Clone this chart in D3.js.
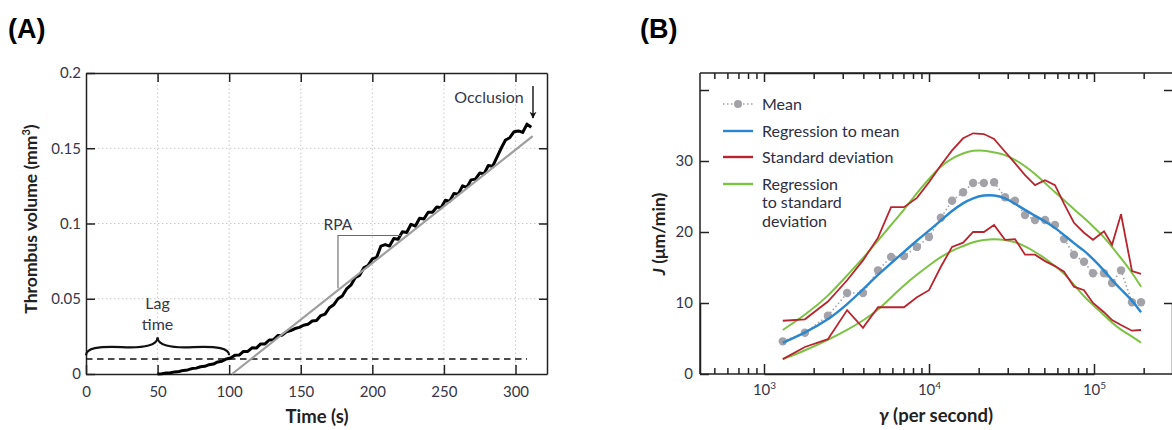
<!DOCTYPE html>
<meta charset="utf-8" />
<script src="https://d3js.org/d3.v7.min.js"></script>
<body style="margin:0;background:#fff">
<div id="chart"></div>
<script>
// ---------- Panel A : thrombus volume over time ----------
const timeS = [50,53,56,59,62,65,68,71,74,77,80,83,86,89,92,95,98,101,104,107,110,113,116,119,122,125,128,131,134,137,140,143,146,149,152,155,158,161,164,167,170,173,176,179,182,185,188,191,194,197,200,203,206,209,212,215,218,221,224,227,230,233,236,239,242,245,248,251,254,257,260,263,266,269,272,275,278,281,284,287,290,293,296,299,302,305,308,311];
const volume = [0,0.0002,0.0006,0.0008,0.0014,0.0017,0.0024,0.0027,0.0036,0.0039,0.0048,0.0051,0.0062,0.0066,0.008,0.0085,0.01,0.0106,0.0125,0.0126,0.015,0.015,0.0174,0.0172,0.02,0.02,0.0226,0.0228,0.0256,0.0258,0.028,0.0288,0.0302,0.031,0.0324,0.033,0.0352,0.0356,0.0388,0.0398,0.044,0.046,0.05,0.0518,0.0565,0.059,0.064,0.0655,0.0705,0.072,0.0765,0.0775,0.085,0.086,0.085,0.09,0.0895,0.0945,0.094,0.0995,0.0982,0.1035,0.103,0.1075,0.1075,0.111,0.1105,0.1155,0.1148,0.12,0.1195,0.125,0.124,0.129,0.1295,0.1335,0.133,0.1385,0.138,0.144,0.15,0.1555,0.157,0.161,0.1615,0.1605,0.166,0.164];
const fitTime = [102, 312];
const fitVolume = [0, 0.158];
const lagThreshold = 0.01;
const thresholdEnd = 308;
const xTicksA = [0,50,100,150,200,250,300];
const yTicksA = [0,0.05,0.1,0.15,0.2];
const yTickLabelsA = ["0","0.05","0.1","0.15","0.2"];

// ---------- Panel B : J versus shear rate ----------
const shearRate = [1300,1770,2440,3190,3980,4910,5890,7050,8450,10000,11800,13800,16100,18500,21500,24800,28900,33200,38200,43900,50500,58000,65800,75600,87000,98600,115000,128600,145800,169900,192800];
const meanJ   = [4.6,5.8,8.2,11.4,11.4,14.6,16.5,16.6,17.9,19.3,22.0,24.4,25.6,26.9,26.9,27.0,24.9,24.4,22.4,21.7,21.7,21.0,19.0,16.8,15.8,14.2,14.2,12.8,14.6,10.1,10.1];
const sdUpper = [7.5,7.7,10.2,13.2,16.0,19.2,23.5,23.5,24.8,27.0,29.4,31.5,33.2,33.9,33.8,33.1,31.3,29.7,28.0,26.6,27.3,26.6,24.0,21.3,19.9,18.9,20.1,18.2,22.5,14.5,14.1];
const sdLower = [2.1,3.8,4.9,9.0,6.5,9.4,9.4,9.4,10.8,11.8,15.1,17.9,18.5,20.0,20.0,21.0,18.9,19.0,16.8,16.8,15.9,15.2,14.4,12.3,11.8,10.0,8.7,7.6,6.9,6.1,6.2];
const regMean  = [4.4,5.8,7.6,9.8,11.9,14.0,15.6,17.2,18.8,20.2,21.6,23.0,24.1,24.8,25.2,25.2,24.8,24.0,23.1,22.3,21.5,20.6,19.6,18.4,17.4,16.2,14.6,13.2,11.9,10.4,8.7];
const regUpper = [6.2,8.3,10.9,13.9,16.3,18.8,21.0,23.1,25.5,27.5,29.3,30.4,31.1,31.5,31.5,31.2,30.9,30.2,29.3,28.2,26.9,25.6,24.5,23.2,22.0,20.8,19.3,17.9,16.3,14.3,12.3];
const regLower = [2.1,3.3,4.8,6.2,7.5,9.0,10.8,12.5,14.0,15.3,16.5,17.4,18.0,18.6,18.9,19.0,18.9,18.6,18.0,17.2,16.3,15.2,14.2,12.6,10.9,9.7,8.3,7.2,6.2,5.3,4.4];
const xMajorB = [1e3,1e4,1e5];
const xMinorB = [500,600,700,800,900,2000,3000,4000,5000,6000,7000,8000,9000,20000,30000,40000,50000,60000,70000,80000,90000,200000];
const yTicksB = [0,10,20,30,40];
const yTickLabelsB = [0,10,20,30];
const legendB = [
  {key:"mean", lines:["Mean"]},
  {key:"reg", lines:["Regression to mean"]},
  {key:"sd", lines:["Standard deviation"]},
  {key:"regsd", lines:["Regression","to standard","deviation"]}
];

const font = "Lato, 'Open Sans', sans-serif";
const inkTick = "#363648";
const red = "#b8252f", blue = "#2a86cf", green = "#7cc243", dotGrey = "#a2a2a8";

const svg = d3.select("#chart").append("svg")
  .attr("width", 1172).attr("height", 430)
  .style("background", "#fff");

// panel letters
svg.append("text").attr("x", 8).attr("y", 38).text("(A)")
  .attr("font-family", "'Liberation Sans', Arial, sans-serif").attr("font-weight", "bold").attr("font-size", 27);
svg.append("text").attr("x", 640).attr("y", 38).text("(B)")
  .attr("font-family", "'Liberation Sans', Arial, sans-serif").attr("font-weight", "bold").attr("font-size", 27);

// ======================= Panel A =======================
const xA = d3.scaleLinear().domain([0, 322]).range([86, 547]);
const yA = d3.scaleLinear().domain([0, 0.2]).range([374, 73]);
const gA = svg.append("g");

// dotted grid
gA.selectAll(".vg").data(xTicksA.slice(1)).join("line")
  .attr("x1", d => xA(d)).attr("x2", d => xA(d))
  .attr("y1", yA(0)).attr("y2", yA(0.2))
  .attr("stroke", "#c9c9c9").attr("stroke-dasharray", "1.5,2.5");
gA.selectAll(".hg").data(yTicksA.slice(1, -1)).join("line")
  .attr("x1", xA(0)).attr("x2", xA(322))
  .attr("y1", d => yA(d)).attr("y2", d => yA(d))
  .attr("stroke", "#c9c9c9").attr("stroke-dasharray", "1.5,2.5");

function styleAxis(g) {
  g.select(".domain").attr("stroke", "#222").attr("stroke-width", 1.5);
  g.selectAll(".tick line").attr("stroke", "#222").attr("stroke-width", 1.5);
  g.selectAll(".tick text").attr("font-family", font).attr("font-size", 15).attr("fill", inkTick);
}

gA.append("g").attr("transform", `translate(0,${yA(0)})`)
  .call(d3.axisBottom(xA).tickValues(xTicksA).tickSize(-9).tickSizeOuter(0).tickPadding(12))
  .call(styleAxis);
gA.append("g").attr("transform", `translate(${xA(0)},0)`)
  .call(d3.axisLeft(yA).tickValues(yTicksA).tickFormat((d, i) => yTickLabelsA[i]).tickSize(-9).tickSizeOuter(0).tickPadding(5))
  .call(styleAxis);
gA.append("g").attr("transform", `translate(0,${yA(0.2)})`)
  .call(d3.axisTop(xA).tickValues(xTicksA.slice(1)).tickFormat("").tickSize(-9).tickSizeOuter(0))
  .call(styleAxis);
gA.append("g").attr("transform", `translate(${xA(322)},0)`)
  .call(d3.axisRight(yA).tickValues(yTicksA.slice(1, -1)).tickFormat("").tickSize(-8).tickSizeOuter(0))
  .call(styleAxis);

// lag threshold
gA.append("line")
  .attr("x1", xA(0)).attr("x2", xA(thresholdEnd))
  .attr("y1", yA(lagThreshold)).attr("y2", yA(lagThreshold))
  .attr("stroke", "#111").attr("stroke-width", 1.6).attr("stroke-dasharray", "6.5,4.5");

// measured volume
gA.append("path")
  .datum(timeS.map((t, i) => [t, volume[i]]))
  .attr("fill", "none").attr("stroke", "#000").attr("stroke-width", 3)
  .attr("stroke-linejoin", "round")
  .attr("d", d3.line().x(d => xA(d[0])).y(d => yA(d[1])));

// RPA fit
gA.append("line")
  .attr("x1", xA(fitTime[0])).attr("y1", yA(fitVolume[0]))
  .attr("x2", xA(fitTime[1])).attr("y2", yA(fitVolume[1]))
  .attr("stroke", "#9e9e9e").attr("stroke-width", 2.2);

// RPA bracket
gA.append("path")
  .attr("d", `M${xA(176)},${yA(0.057)} V${yA(0.092)} H${xA(220)}`)
  .attr("fill", "none").attr("stroke", "#6a6a6a").attr("stroke-width", 1.1);
gA.append("text").attr("x", xA(176)).attr("y", yA(0.096)).attr("text-anchor", "middle")
  .attr("font-family", font).attr("font-size", 15.5).attr("fill", inkTick).text("RPA");

// lag time brace
function brace(x1, y1, x2, y2, w, q) {
  let dx = x1 - x2, dy = y1 - y2;
  const len = Math.sqrt(dx * dx + dy * dy); dx /= len; dy /= len;
  const qx1 = x1 + q * w * dy, qy1 = y1 - q * w * dx;
  const qx2 = (x1 - .25 * len * dx) + (1 - q) * w * dy, qy2 = (y1 - .25 * len * dy) - (1 - q) * w * dx;
  const tx1 = (x1 - .5 * len * dx) + w * dy, ty1 = (y1 - .5 * len * dy) - w * dx;
  const qx3 = x2 + q * w * dy, qy3 = y2 - q * w * dx;
  const qx4 = (x1 - .75 * len * dx) + (1 - q) * w * dy, qy4 = (y1 - .75 * len * dy) - (1 - q) * w * dx;
  return `M${x1} ${y1} Q${qx1} ${qy1} ${qx2} ${qy2} T${tx1} ${ty1} M${x2} ${y2} Q${qx3} ${qy3} ${qx4} ${qy4} T${tx1} ${ty1}`;
}
gA.append("path")
  .attr("d", brace(xA(100), yA(0.0125), xA(0), yA(0.0125), yA(0.0125) - yA(0.0245), 0.55))
  .attr("fill", "none").attr("stroke", "#111").attr("stroke-width", 2.2);
gA.append("text").attr("x", xA(50)).attr("y", 309).attr("text-anchor", "middle")
  .attr("font-family", font).attr("font-size", 16).attr("fill", inkTick).text("Lag");
gA.append("text").attr("x", xA(50)).attr("y", 330).attr("text-anchor", "middle")
  .attr("font-family", font).attr("font-size", 16).attr("fill", inkTick).text("time");

// occlusion
gA.append("text").attr("x", 489).attr("y", 103).attr("text-anchor", "middle")
  .attr("font-family", font).attr("font-size", 16).attr("fill", inkTick).text("Occlusion");
svg.append("defs").append("marker").attr("id", "arrow")
  .attr("viewBox", "0 0 10 10").attr("refX", 9).attr("refY", 5)
  .attr("markerWidth", 5).attr("markerHeight", 6).attr("orient", "auto")
  .append("path").attr("d", "M0,0 L10,5 L0,10 L3,5 Z").attr("fill", "#111");
gA.append("line").attr("x1", 533).attr("x2", 533).attr("y1", 86).attr("y2", 118)
  .attr("stroke", "#111").attr("stroke-width", 1.4).attr("marker-end", "url(#arrow)");

// axis titles
gA.append("text").attr("transform", "translate(37,219) rotate(-90)").attr("text-anchor", "middle")
  .attr("font-family", font).attr("font-weight", "bold").attr("font-size", 17.5).attr("fill", "#222")
  .call(t => { t.append("tspan").text("Thrombus volume (mm"); t.append("tspan").attr("dy", -7).attr("font-size", 11).text("3"); t.append("tspan").attr("dy", 7).text(")"); });
gA.append("text").attr("x", 317).attr("y", 423).attr("text-anchor", "middle")
  .attr("font-family", font).attr("font-weight", "bold").attr("font-size", 18.5).attr("fill", "#222").text("Time (s)");

// ======================= Panel B =======================
const xB = d3.scaleLog().domain([1e3, 1e5]).range([764, 1094]);
const yB = d3.scaleLinear().domain([0, 10]).range([374, 303]);
const leftB = 700, rightB = 1172, topB = 73, bottomB = yB(0);
const gB = svg.append("g");

const axB = gB.append("g").attr("transform", `translate(0,${bottomB})`)
  .call(d3.axisBottom(xB).tickValues(xMajorB).tickSize(-10).tickSizeOuter(0).tickPadding(10).tickFormat(() => ""))
  .call(styleAxis);
axB.selectAll(".tick text").each(function (d) {
  const t = d3.select(this);
  t.append("tspan").text("10");
  t.append("tspan").attr("dy", "-0.55em").attr("font-size", 10).text(Math.round(Math.log10(d)));
});
gB.append("g").attr("transform", `translate(0,${bottomB})`)
  .call(d3.axisBottom(xB).tickValues(xMinorB).tickSize(-6).tickSizeOuter(0).tickFormat(""))
  .call(styleAxis)
  .call(g => g.select(".domain").remove());
gB.append("g").attr("transform", `translate(0,${topB})`)
  .call(d3.axisTop(xB).tickValues(xMajorB).tickSize(-9).tickSizeOuter(0).tickFormat(""))
  .call(styleAxis);
gB.append("g").attr("transform", `translate(0,${topB})`)
  .call(d3.axisTop(xB).tickValues(xMinorB).tickSize(-6).tickSizeOuter(0).tickFormat(""))
  .call(styleAxis)
  .call(g => g.select(".domain").remove());
// axis lines spanning full frame
gB.append("path").attr("d", `M${leftB},${bottomB} H${rightB} M${leftB},${topB} H${rightB} M${leftB},${topB} V${bottomB}`)
  .attr("stroke", "#222").attr("stroke-width", 1.5).attr("fill", "none");
gB.append("g").attr("transform", `translate(${leftB},0)`)
  .call(d3.axisLeft(yB).tickValues(yTicksB).tickFormat(d => yTickLabelsB.includes(d) ? d : "").tickSize(-9).tickSizeOuter(0).tickPadding(7))
  .call(styleAxis);
gB.append("g").attr("transform", `translate(${rightB},0)`)
  .call(d3.axisRight(yB).tickValues(yTicksB.slice(1)).tickFormat("").tickSize(-8).tickSizeOuter(0))
  .call(styleAxis);

const lineB = d3.line().x(d => xB(d[0])).y(d => yB(d[1]));
const smoothB = d3.line().x(d => xB(d[0])).y(d => yB(d[1])).curve(d3.curveBasis);
const pts = arr => shearRate.map((g, i) => [g, arr[i]]);

[regUpper, regLower].forEach(arr => {
  gB.append("path").datum(pts(arr)).attr("d", smoothB)
    .attr("fill", "none").attr("stroke", green).attr("stroke-width", 2);
});
[sdUpper, sdLower].forEach(arr => {
  gB.append("path").datum(pts(arr)).attr("d", lineB)
    .attr("fill", "none").attr("stroke", red).attr("stroke-width", 1.8);
});
gB.append("path").datum(pts(meanJ)).attr("d", lineB)
  .attr("fill", "none").attr("stroke", dotGrey).attr("stroke-width", 1.6).attr("stroke-dasharray", "1.5,2.5");
gB.selectAll(".dot").data(pts(meanJ)).join("circle")
  .attr("cx", d => xB(d[0])).attr("cy", d => yB(d[1])).attr("r", 4.2).attr("fill", dotGrey);
gB.append("path").datum(pts(regMean)).attr("d", smoothB)
  .attr("fill", "none").attr("stroke", blue).attr("stroke-width", 2.4);

// legend
const legY = [104, 131, 157, 184];
legendB.forEach((item, i) => {
  const y = legY[i];
  if (item.key === "mean") {
    gB.append("line").attr("x1", 723).attr("x2", 753).attr("y1", y).attr("y2", y)
      .attr("stroke", dotGrey).attr("stroke-width", 1.6).attr("stroke-dasharray", "1.5,2.5");
    gB.append("circle").attr("cx", 738).attr("cy", y).attr("r", 4).attr("fill", dotGrey);
  } else {
    const c = item.key === "reg" ? blue : item.key === "sd" ? red : green;
    gB.append("line").attr("x1", 723).attr("x2", 753).attr("y1", y).attr("y2", y)
      .attr("stroke", c).attr("stroke-width", 2.4);
  }
  item.lines.forEach((ln, j) => {
    gB.append("text").attr("x", 762).attr("y", y + 5.5 + j * 18.5)
      .attr("font-family", font).attr("font-size", 16).attr("fill", "#2e2e44").text(ln);
  });
});

// axis titles
gB.append("text").attr("transform", "translate(665,234) rotate(-90)").attr("text-anchor", "middle")
  .attr("font-family", font).attr("font-weight", "bold").attr("font-size", 17.5).attr("fill", "#222")
  .call(t => { t.append("tspan").attr("font-style", "italic").text("J"); t.append("tspan").text(" (μm/min)"); });
gB.append("text").attr("x", 936).attr("y", 422).attr("text-anchor", "middle")
  .attr("font-family", font).attr("font-weight", "bold").attr("font-size", 18.5).attr("fill", "#222")
  .call(t => { t.append("tspan").attr("font-style", "italic").text("γ"); t.append("tspan").text(" (per second)"); });
</script>
</body>
